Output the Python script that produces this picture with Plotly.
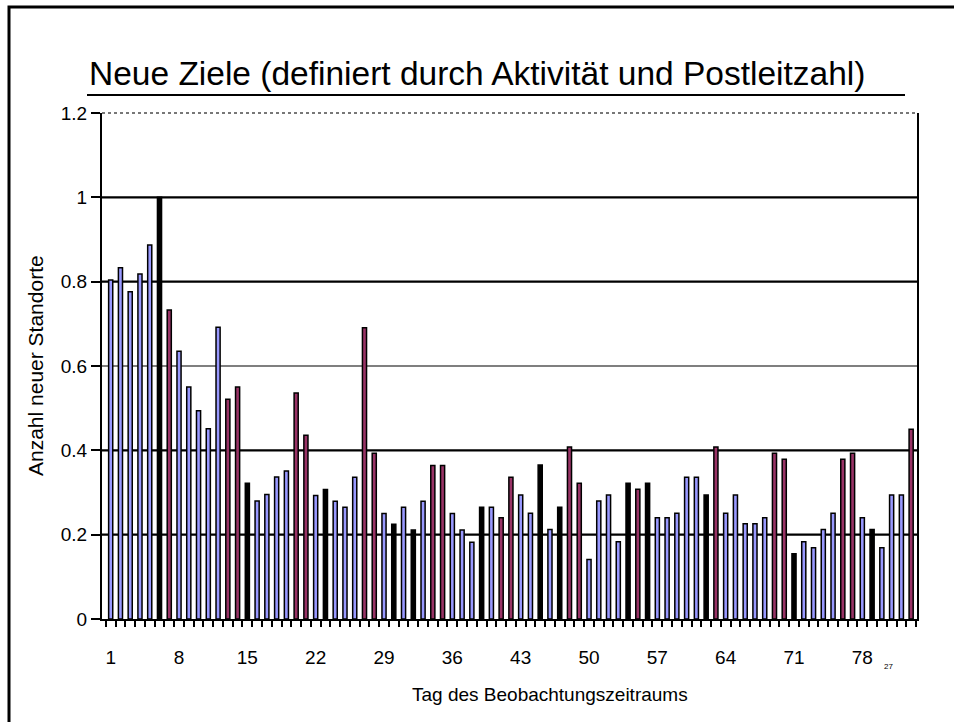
import plotly.graph_objects as go

# Tag des Beobachtungszeitraums (1..83)
days = list(range(1, 84))

# Anzahl neuer Standorte (normiert)
values = [
    0.804, 0.833, 0.776, 0.818, 0.887, 1.000, 0.733, 0.635, 0.550, 0.494,
    0.451, 0.692, 0.521, 0.550, 0.322, 0.280, 0.295, 0.337, 0.351, 0.536,
    0.436, 0.293, 0.307, 0.279, 0.265, 0.336, 0.691, 0.393, 0.250, 0.225,
    0.265, 0.211, 0.279, 0.364, 0.364, 0.250, 0.211, 0.182, 0.265, 0.265,
    0.240, 0.336, 0.294, 0.251, 0.365, 0.212, 0.265, 0.408, 0.322, 0.141,
    0.280, 0.294, 0.183, 0.322, 0.308, 0.322, 0.240, 0.240, 0.251, 0.336,
    0.336, 0.294, 0.408, 0.251, 0.294, 0.226, 0.226, 0.240, 0.393, 0.379,
    0.155, 0.183, 0.169, 0.212, 0.251, 0.379, 0.393, 0.240, 0.212, 0.169,
    0.294, 0.294, 0.450,
]

# bar colour group per day: b = blue, m = maroon, k = black
groups = list(
    "bbbbbkmbbbbbmmkbbbbmmbkbbbmmbkbkbmmbbbkbmmbbkbkmmbbbbkmkbbbbbkmbbbbbmmkbbbbmmbkbbbm"
)

palette = {"b": "#9999FF", "m": "#993366", "k": "#000000"}
bar_colors = [palette[g] for g in groups]

tick_days = list(range(1, 84, 7))
y_ticks = [0, 0.2, 0.4, 0.6, 0.8, 1.0, 1.2]
y_labels = ["0", "0.2", "0.4", "0.6", "0.8", "1", "1.2"]

font = "Liberation Sans, Arial, sans-serif"

fig = go.Figure(
    go.Bar(
        x=days,
        y=values,
        width=0.42,
        marker=dict(color=bar_colors, line=dict(color="black", width=1.5)),
    )
)

W, H = 954, 722
L, R, T, B = 102, 37, 113, 103

fig.update_layout(
    width=W,
    height=H,
    margin=dict(l=L, r=R, t=T, b=B, autoexpand=False),
    paper_bgcolor="white",
    plot_bgcolor="white",
    showlegend=False,
    font=dict(family=font, color="black"),
    title=dict(
        text="Neue Ziele (definiert durch Aktivität und Postleitzahl)",
        font=dict(size=33.5, family=font, color="black"),
        xref="container",
        x=89 / W,
        xanchor="left",
        yref="container",
        y=1 - 73 / H,
        yanchor="middle",
    ),
)

fig.update_xaxes(
    range=[0.11, 83.6],
    tickvals=tick_days,
    ticktext=[str(d) for d in tick_days],
    ticks="",
    tickfont=dict(size=19),
    ticklabelstandoff=20,
    showgrid=False,
    zeroline=False,
    showline=True,
    linecolor="black",
    linewidth=2,
    minor=dict(ticks="outside", tick0=0.5, dtick=1, ticklen=6,
               tickwidth=2, tickcolor="black", showgrid=False),
)

fig.update_yaxes(
    range=[0, 1.2],
    tickvals=y_ticks,
    ticktext=y_labels,
    ticks="outside",
    ticklen=9,
    tickwidth=1.5,
    tickcolor="black",
    tickfont=dict(size=19),
    showgrid=False,
    zeroline=False,
    showline=True,
    linecolor="black",
    linewidth=2,
    mirror=True,
)

pw = W - L - R
ph = H - T - B


def px_x(p):
    return (p - L) / pw


def px_y(p):
    return (H - B - p) / ph


# horizontal gridlines (0.6 is drawn thinner in the original)
for v in y_ticks[1:-1]:
    fig.add_shape(type="line", xref="paper", yref="y", x0=0, x1=1, y0=v, y1=v,
                  layer="below",
                  line=dict(color="black", width=1.2 if v == 0.6 else 2.2))

# dotted top frame, title underline, outer page frame
fig.add_shape(type="line", xref="paper", yref="paper", x0=0, x1=1, y0=1, y1=1,
              line=dict(color="#777777", width=2, dash="dot"))
fig.add_shape(type="line", xref="paper", yref="paper",
              x0=px_x(87), x1=px_x(905), y0=px_y(95), y1=px_y(95),
              line=dict(color="black", width=2))
fig.add_shape(type="rect", xref="paper", yref="paper",
              x0=px_x(9), x1=px_x(990), y0=px_y(7), y1=px_y(760),
              line=dict(color="black", width=3))

fig.add_annotation(text="Anzahl neuer Standorte", xref="paper", yref="paper",
                   x=px_x(35), y=px_y(366), xanchor="center", yanchor="middle",
                   textangle=-90, showarrow=False, font=dict(size=21))
fig.add_annotation(text="Tag des Beobachtungszeitraums", xref="paper", yref="paper",
                   x=px_x(550), y=px_y(694), xanchor="center", yanchor="middle",
                   showarrow=False, font=dict(size=19))
fig.add_annotation(text="27", xref="paper", yref="paper",
                   x=px_x(888), y=px_y(666), xanchor="center", yanchor="middle",
                   showarrow=False, font=dict(size=8))

fig.write_html(
    "out.html",
    config={"displayModeBar": False},
    post_script="document.body.style.margin='0';document.body.style.overflow='hidden';",
)
